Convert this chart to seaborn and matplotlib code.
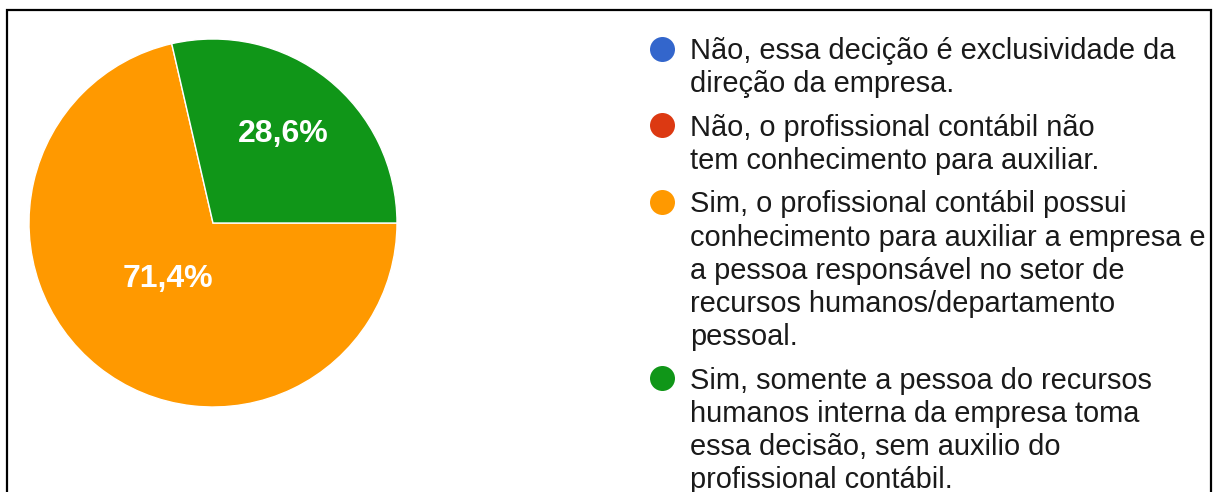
import matplotlib
matplotlib.use("Agg")
import matplotlib.pyplot as plt
import seaborn as sns
import numpy as np

# ---- data ----
categories = [
    "Não, essa decição é exclusividade da\ndireção da empresa.",
    "Não, o profissional contábil não\ntem conhecimento para auxiliar.",
    "Sim, o profissional contábil possui\nconhecimento para auxiliar a empresa e\na pessoa responsável no setor de\nrecursos humanos/departamento\npessoal.",
    "Sim, somente a pessoa do recursos\nhumanos interna da empresa toma\nessa decisão, sem auxilio do\nprofissional contábil.",
]
values = [0.0, 0.0, 71.4, 28.6]
pct_labels = ["0%", "0%", "71,4%", "28,6%"]
colors = ["#3366CC", "#DC3912", "#FF9900", "#109618"]

sns.set_theme(style="white")
plt.rcParams['font.family'] = ['Liberation Sans', 'DejaVu Sans']

W, H = 1215, 492
fig = plt.figure(figsize=(W / 100, H / 100), dpi=100)
fig.patch.set_facecolor("white")

# ---- pie ----
cx, cy, r = 213, 223, 184
ax = fig.add_axes([(cx - r) / W, (H - cy - r) / H, 2 * r / W, 2 * r / H])
shown = [i for i, v in enumerate(values) if v > 0]
total = sum(values)
start = 360.0 * values[-1] / total
wedges, _ = ax.pie([values[i] for i in shown],
                   colors=[colors[i] for i in shown],
                   startangle=start, counterclock=True,
                   wedgeprops=dict(edgecolor="white", linewidth=1.0))
ax.set_xlim(-1, 1)
ax.set_ylim(-1, 1)
ax.set_aspect("equal")
ax.axis("off")

label_dist = {2: 0.39, 3: 0.615}
for w, i in zip(wedges, shown):
    mid = np.deg2rad((w.theta1 + w.theta2) / 2)
    d = label_dist.get(i, 0.6)
    ax.text(d * np.cos(mid), d * np.sin(mid), pct_labels[i],
            ha="center", va="center", color="white",
            fontsize=23, fontweight="bold")

# ---- legend (pixel overlay) ----
ov = fig.add_axes([0, 0, 1, 1])
ov.set_xlim(0, W)
ov.set_ylim(H, 0)
ov.axis("off")
ov.patch.set_alpha(0)

line_h = 33.2
entry_gap = 43.5
baseline = 59.0
text_x = 690
mark_x = 662
for cat, col in zip(categories, colors):
    lines = cat.split("\n")
    ov.scatter([mark_x], [baseline - 10.5], s=324, color=col, linewidths=0, zorder=3)
    for k, ln in enumerate(lines):
        ov.text(text_x, baseline + k * line_h, ln, va="baseline", ha="left",
                fontsize=20.9, color="#1a1a1a")
    baseline += (len(lines) - 1) * line_h + entry_gap

# ---- outer frame (top, left, right) ----
ov.plot([7, 7, 1211, 1211], [H + 5, 9.5, 9.5, H + 5], color="black",
        linewidth=1.6, clip_on=False, solid_joinstyle="miter")

fig.savefig("out.png", dpi=100, facecolor="white")
